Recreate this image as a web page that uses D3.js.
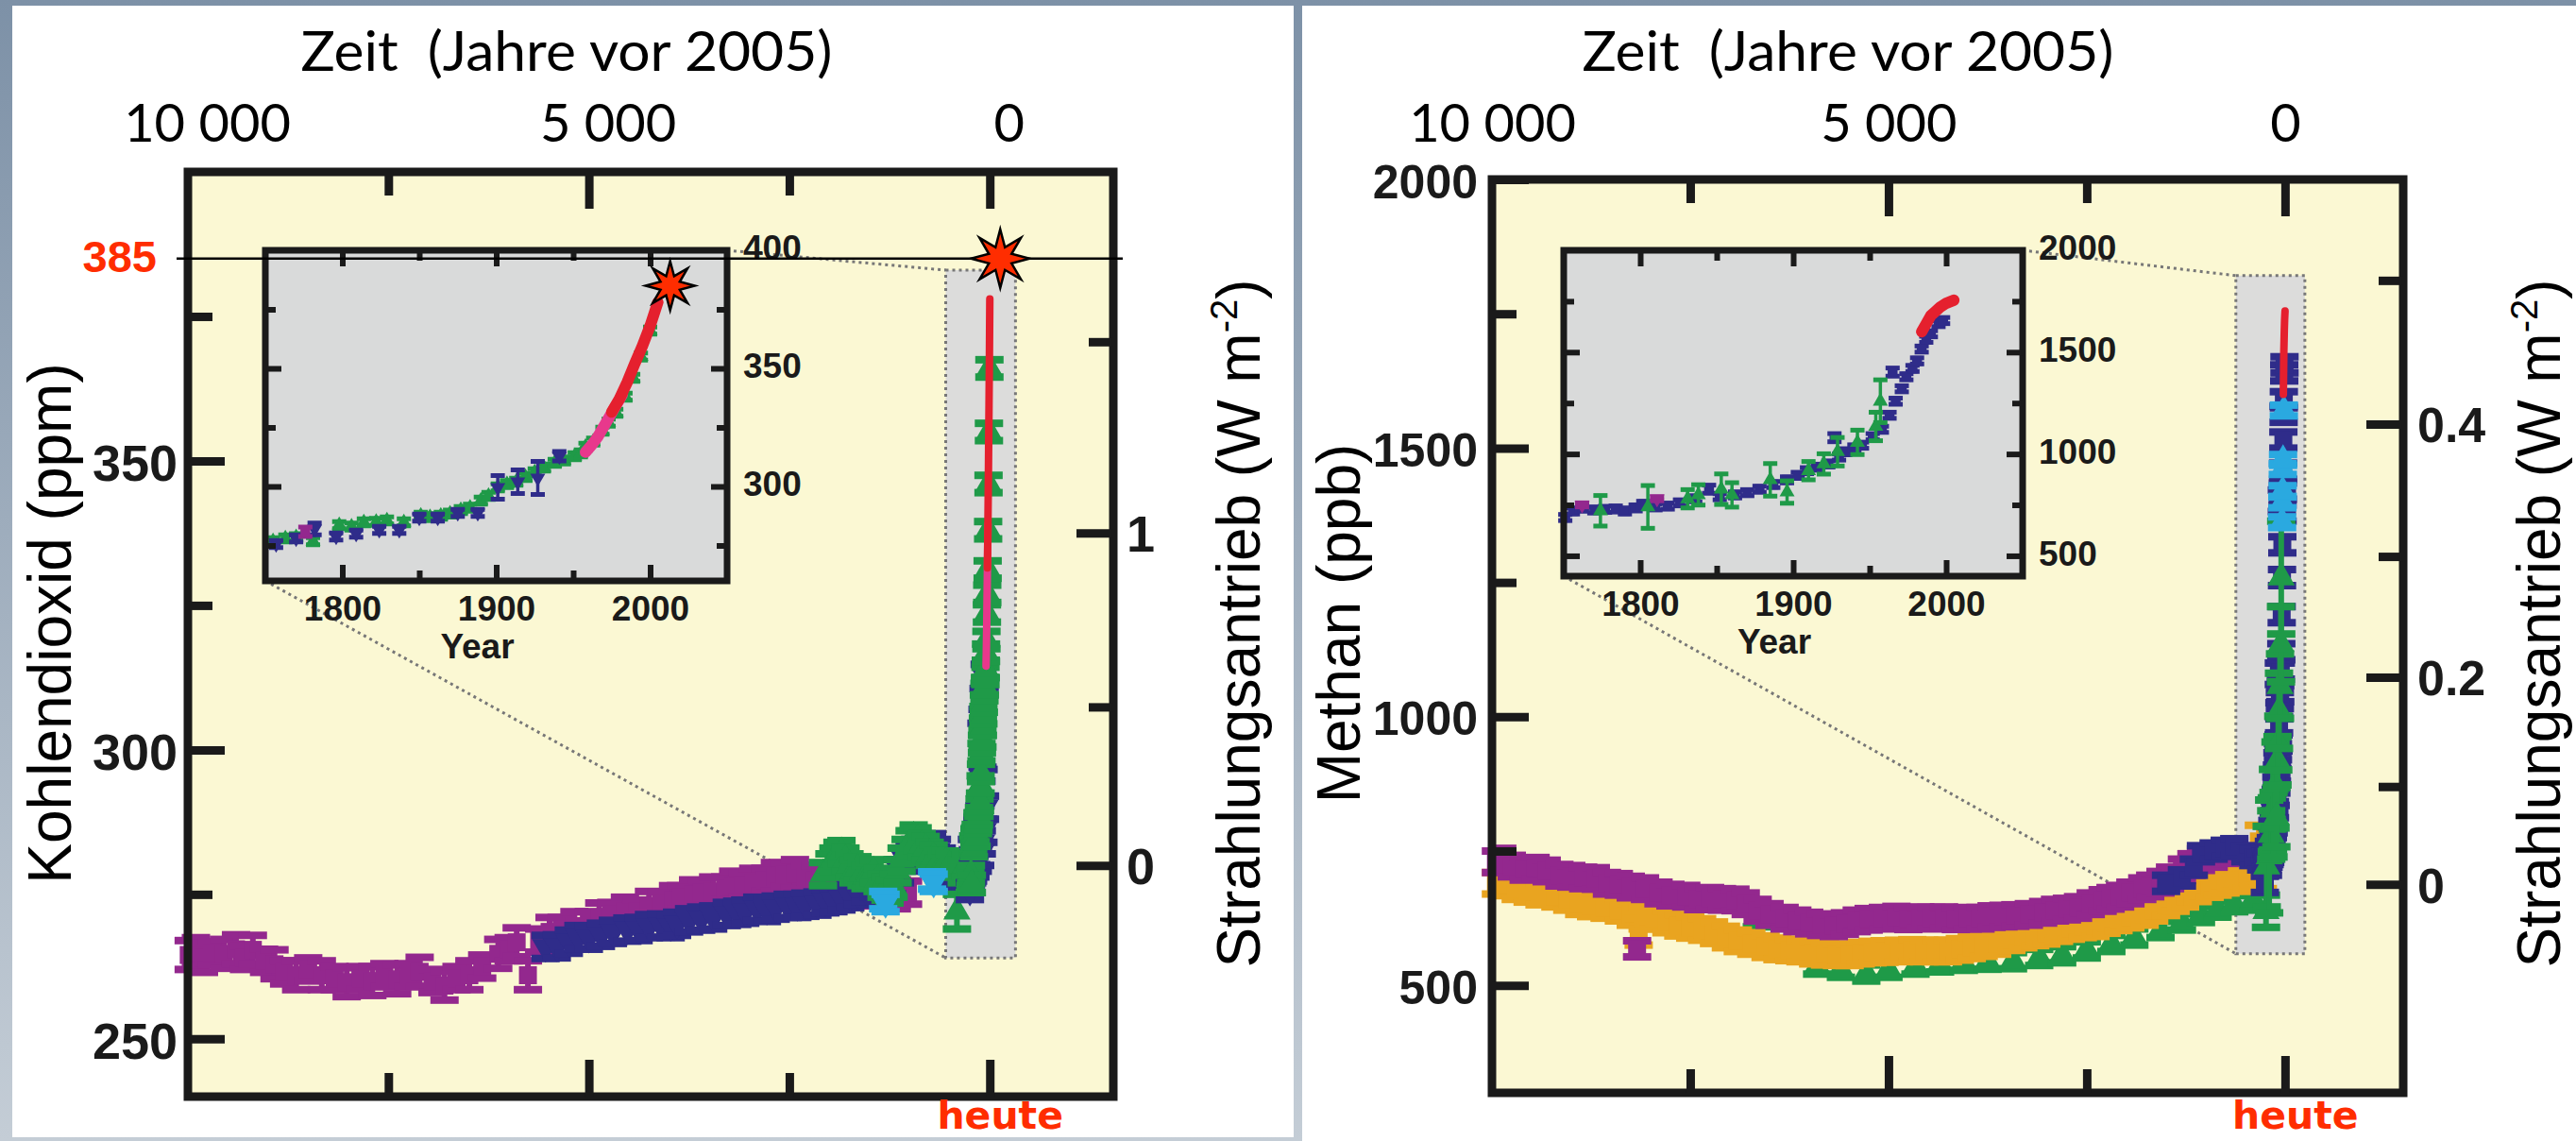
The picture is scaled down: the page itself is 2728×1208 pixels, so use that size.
<!DOCTYPE html>
<meta charset="utf-8">
<script src="https://d3js.org/d3.v7.min.js"></script>
<style>
  body { margin: 0; background: #fff; }
  svg { display: block; }
</style>
<div id="chart"></div>
<script>

// ---------- data ----------
// main panels: [years before 2005, value, error]; insets: [calendar year, value, error]

var timeTicks = [10000, 5000, 0];
var timeMinor = [7500, 2500];
var insetYears = [1800, 1900, 2000];
var insetYearsMinor = [1850, 1950];

// carbon dioxide (ppm)
var co2Ticks = [250, 300, 350];
var co2Minor = [275, 325, 375];
var co2Forcing = [0, 1];
var co2ForcingMinor = [0.5, 1.5];
var co2InsetTicks = [300, 350, 400];
var co2InsetMinor = [275, 325, 375];
var co2Today = 385;
var co2StarMain = [-130, 385];
var co2StarInset = [2013, 385];

var co2Purple = [[9990,264.5,2.5],[9900,265,2.5],[9800,264,2.5],[9700,264.8,2],[9550,264.7,2.5],[9400,265.5,2.5],
  [9300,264,2],[9190,265.4,2.5],[9050,263.5,2],[8920,262.9,2.5],[8800,261.5,2],[8650,261,2.5],[8500,262,2],
  [8330,261,2.5],[8170,260.5,2],[8020,259.8,2.5],[7850,260.5,2],[7700,260,2.5],[7550,261,2],[7390,260.3,2.5],
  [7250,261,2],[7110,261.6,2.5],[6950,260,2],[6800,259.2,2.5],[6650,260.5,2],[6490,261,2.5],[6330,262.5,2],
  [6130,264.7,2.5],[6000,265.5,2],[5900,266.7,2.5],[5760,261,2.5],[5620,267,2],[5490,268.5,2.5],[5340,269,2],
  [5180,269.5,2.5],[5000,270,2],[4870,271,2.5],[4720,271.6,2],[4550,272,2.5],[4400,272,2],[4250,273,2.5],
  [4100,273.4,2],[3950,274,2.5],[3850,274.5,2],[3700,275,2.5],[3590,275.3,2],[3450,275.5,2.5],[3300,276,2],
  [3200,276.5,2.5],[3080,276.6,2],[2950,277,2.5],[2800,277.5,2],[2680,278,2.5],[2560,278.4,2],[2430,278.5,2.5],
  [2300,278,2],[2180,277.5,2.5],[2050,277.1,2],[1920,276.8,2.5],[1800,276.5,2],[1680,276,2.5],[1540,276,2],
  [1420,275.5,2.5],[1300,275.5,2],[1160,275,2.5],[1020,275.3,2]];

var co2Blue = [[5540,265.9,2],[5400,266,2],[5250,266.8,2],[5130,267.6,2],[5000,267.5,2],[4850,268,2],[4700,268.5,2],
  [4520,268.9,2],[4380,269,2],[4250,269.5,2],[4100,269.6,2],[3980,269.5,2],[3900,269.9,2],[3750,270.5,2],
  [3600,270.8,2],[3450,271,2],[3280,271.6,2],[3150,271.8,2],[3050,272,2],[2900,272.5,2],[2780,272.3,2],
  [2670,272.7,2],[2520,273,2],[2400,273,2],[2300,273.2,2],[2150,273.4,2],[2050,273.8,2],[1950,274,2],
  [1850,274.3,2],[1740,274.7,2],[1650,275.2,2],[1550,275.8,2],[1450,276.5,2],[1320,277,2],[1220,277.1,2],
  [1120,279,2],[1060,281,2],[1000,281.7,2],[930,282.5,2],[860,283,2],[780,283.2,2],[720,283.5,2],[660,282.5,2],
  [600,281,2],[540,280.2,2],[505,279.7,2],[450,279,2],[400,278.5,2],[350,278,2],[305,277.8,2],[260,278.5,2],
  [220,279,2],[180,280,2],[150,281,2],[120,282,2],[100,284,2],[80,286,2],[60,290,2]];

var co2Green = [[2080,278.5,2],[2000,280,2],[1950,281,2],[1900,282,2],[1850,282.3,2],[1800,281,2],[1750,280,2],
  [1700,279,2],[1650,279.5,2],[1600,278.5,2],[1550,278,2],[1500,278.5,2],[1450,279,2],[1400,277.5,2],
  [1350,276.5,2],[1300,276,2],[1250,275.5,2],[1200,276.5,2],[1150,279,2],[1100,281,2],[1050,282.5,2],
  [1000,284,2],[950,285,2],[900,284.5,2],[850,283.5,2],[800,283,2],[750,282,2],[700,281.5,2],[650,280.5,2],
  [600,280,2],[550,280.5,2],[500,280,2],[410,272,3],[350,279,2],[300,280,2]];

var co2Cyan = [[1330,274,1.5],[1300,273.5,1.5],[720,277.4,1.5],[700,277,1.5]];

var co2InsetGreen = [[1755,276.8,1.5],[1763,278,1.5],[1770,278.5,1.5],[1781,276.8,1.5],[1798,283.6,1.5],
  [1806,283,1.5],[1814,284.8,1.5],[1822,285,1.5],[1829,285.6,1.5],[1840,284.8,1.5],[1851,287.6,1.5],
  [1857,287,1.5],[1864,287.6,1.5],[1870,288.5,1.5],[1877,290,1.5],[1883,291,1.5],[1890,294,1.5],[1895,296,1.5],
  [1901,299.6,1.5],[1907,301,1.5],[1913,302,1.5],[1919,304,1.5],[1925,306,1.5],[1931,308,1.5],[1938,310,1.5],
  [1944,311,1.5],[1951,312.8,1.5],[1955,314,1.5],[1958,316.8,1.5],[1963,319,1.5],[1969,323.6,1.5],
  [1973,327,1.5],[1978,331.2,1.5],[1984,338,1.5],[1989,346,1.5],[1994,355,1.5],[2000,366,1.5]];
var co2InsetBlue = [[1757,275.6,1.5],[1770,278,1.5],[1782,282,2.5],[1796,278.8,1.5],[1809,280,1.5],[1824,281.6,1.5],
  [1837,281.6,1.5],[1850,286.8,1.5],[1862,286.8,1.5],[1875,288.8,1.5],[1888,288.8,1.5],[1901,299.6,5],
  [1914,302,5],[1927,303.6,7],[1941,312.8,2]];
var co2InsetMagenta = [[1776,280.8,2]];
var co2InsetPink = [[1958,314.5],[1962,317.5],[1966,321],[1970,325.5],[1974,330],[1978,334.5],[1982,339]];
var co2InsetRed = [[1975,331.5],[1980,337],[1985,344],[1990,352],[1995,359.5],[2000,368],[2005,378]];

// methane (ppb)
var ch4Ticks = [500, 1000, 1500, 2000];
var ch4Minor = [750, 1250, 1750];
var ch4Forcing = [0, 0.2, 0.4];
var ch4ForcingMinor = [0.1, 0.3, 0.5];
var ch4InsetTicks = [500, 1000, 1500, 2000];
var ch4InsetMinor = [750, 1250, 1750];

var ch4Purple = [[9950,730,20],[9870,735,20],[9750,722,20],[9600,716,20],[9450,718,20],[9310,713,20],[9150,705,20],
  [9000,703,20],[8850,700,20],[8690,699,20],[8550,690,20],[8400,688,20],[8250,683,20],[8170,568,15],[8070,680,20],
  [7900,672,20],[7750,668,20],[7550,666,20],[7400,661,20],[7250,662,20],[7100,660,20],[6930,659,20],[6800,652,20],
  [6650,640,20],[6500,632,20],[6310,625,20],[6150,620,20],[6000,616,20],[5850,613,20],[5690,611,20],[5550,615,20],
  [5400,620,20],[5250,623,20],[5070,625,20],[4900,627,20],[4750,624,20],[4600,626,20],[4460,625,20],[4300,626,20],
  [4150,624,20],[4000,625,20],[3840,625,20],[3700,628,20],[3550,629,20],[3400,630,20],[3230,632,20],[3050,636,20],
  [2900,640,20],[2750,642,20],[2610,645,20],[2450,652,20],[2300,658,20],[2200,662,20],[2080,666,20],[1950,672,20],
  [1800,680,20],[1700,685,20],[1570,692,20],[1450,700,20],[1300,715,20],[1180,725,20],[1060,734,20],[900,740,20],
  [760,747,20],[640,749,20]];

var ch4Orange = [[9950,690,20],[9820,687,20],[9700,680,20],[9550,675,20],[9400,670,20],[9200,666,20],[9050,660,20],
  [8900,652,20],[8750,648,20],[8580,645,20],[8400,640,20],[8250,632,20],[8150,600,25],[8100,625,20],[7960,625,20],
  [7800,618,20],[7650,612,20],[7500,608,20],[7350,604,20],[7200,598,20],[7050,590,20],[6900,583,20],[6730,578,20],
  [6550,572,20],[6400,568,20],[6250,566,20],[6110,564,20],[5950,560,20],[5800,558,20],[5650,557,20],[5490,557,20],
  [5350,560,20],[5200,562,20],[5050,563,20],[4870,564,20],[4700,565,20],[4550,564,20],[4400,564,20],[4250,564,20],
  [4100,567,20],[3950,570,20],[3800,574,20],[3630,578,20],[3450,585,20],[3300,590,20],[3150,594,20],[3010,597,20],
  [2850,602,20],[2700,606,20],[2550,609,20],[2390,611,20],[2250,617,20],[2100,622,20],[1950,627,20],[1770,632,20],
  [1650,640,20],[1500,650,20],[1380,658,20],[1260,666,20],[1100,676,20],[950,684,20],[850,688,20],[750,692,20],
  [600,695,20],[480,700,20],[400,710,25],[330,768,30],[280,700,20]];

var ch4Green = [[6660,624,15],[5920,603,12],[5900,536,15],[5600,530,15],[5280,523,15],[5000,530,15],[4660,536,15],
  [4350,540,15],[4050,543,15],[3750,545,15],[3430,546,15],[3100,552,15],[2810,557,15],[2500,566,15],[2190,578,15],
  [1900,590,15],[1570,604,15],[1300,618,15],[1060,632,15],[850,642,15],[640,652,15],[400,660,20],[240,638,30]];

var ch4Blue = [[1500,690,15],[1300,700,15],[1150,720,15],[1060,745,15],[900,750,15],[760,755,15],[640,758,15],
  [500,745,15],[400,738,15],[300,730,15],[240,734,15]];

var ch4Cyan = [[37,1362,10],[33,1399,10],[30,1420,10],[28,1461,10],[25,1478,10],[15,1570,10]];

var ch4InsetBlue = [[1751,688,15],[1756,720,15],[1762,734,15],[1770,725,15],[1777,728,15],[1784,730,15],
  [1790,720,15],[1797,735,15],[1802,753,15],[1810,740,15],[1818,744,15],[1826,760,15],[1836,780,15],[1845,827,20],
  [1852,790,15],[1862,799,15],[1870,810,15],[1878,827,15],[1887,850,15],[1896,873,15],[1903,895,15],[1909,918,15],
  [1916,935,15],[1923,951,15],[1927,1080,20],[1930,985,15],[1934,1011,15],[1940,1030,15],[1945,1043,15],
  [1952,1085,15],[1958,1121,15],[1963,1190,15],[1965,1402,20],[1967,1259,15],[1971,1320,15],[1974,1379,15],
  [1978,1420,15],[1981,1457,15],[1984,1515,15],[1987,1563,15],[1990,1590,15],[1995,1640,15],[1998,1655,15]];
var ch4InsetGreen = [[1774,721,75],[1805,740,105],[1831,780,45],[1838,799,50],[1853,827,75],[1860,799,60],
  [1885,873,80],[1896,813,55],[1910,918,45],[1920,951,50],[1929,1011,70],[1942,1057,60],[1954,1135,70],
  [1957,1259,105]];
var ch4InsetMagenta = [[1762,750,10],[1811,780,10]];
var ch4InsetRed = [[1984,1600],[1987,1640],[1990,1680],[1993,1700],[1996,1720],[2000,1740],[2005,1755]];

// radiative forcing scales (W m-2) expressed as concentrations
function co2FromForcing(f) { return 280 * Math.exp(f / 5.35); }
function ch4FromForcing(f) { return Math.pow(Math.sqrt(688) + f / 0.0306, 2); }

// ---------- drawing ----------
var W = 2728, H = 1208;
var RED = "#ff2d00";
var C = { purple: "#93288e", blue: "#2f2c8a", green: "#1f9a48", orange: "#e9a420", cyan: "#2aa9e0",
          red: "#e5202e", pink: "#e8388c", ink: "#1a1a1a" };
var bold = "'Liberation Sans', Arial, sans-serif";

var svg = d3.select("#chart").append("svg").attr("width", W).attr("height", H);

var grad = svg.append("defs").append("linearGradient").attr("id", "edge")
  .attr("x1", 0).attr("y1", 0).attr("x2", 0).attr("y2", 1);
grad.append("stop").attr("offset", "0%").attr("stop-color", "#7d91a7");
grad.append("stop").attr("offset", "100%").attr("stop-color", "#c4cdd6");
svg.append("rect").attr("width", W).attr("height", H).attr("fill", "url(#edge)");
svg.append("rect").attr("x", 13).attr("y", 6).attr("width", 1357).attr("height", 1198).attr("fill", "#fff");
svg.append("rect").attr("x", 1379).attr("y", 6).attr("width", W - 1379).attr("height", H - 6).attr("fill", "#fff");

var mainSize = { cap: 30, capW: 8, bar: 6, sym: 360, line: 8 };
var insetSize = { cap: 15, capW: 5, bar: 3.5, sym: 110, line: 12 };

function drawSeries(g, s, x, y, sz) {
  var xv = function(d) { return x(s.ad ? 2005 - d[0] : d[0]); };
  if (s.line) {
    g.append("path").datum(s.data)
      .attr("d", d3.line().x(xv).y(function(d) { return y(d[1]); }))
      .attr("fill", "none").attr("stroke", s.color)
      .attr("stroke-width", sz.line).attr("stroke-linecap", "round");
    return;
  }
  var pts = g.append("g").selectAll("g").data(s.data).enter().append("g")
    .attr("stroke", s.color).attr("fill", s.color);
  pts.append("line")
    .attr("x1", xv).attr("x2", xv)
    .attr("y1", function(d) { return y(d[1] - d[2]); })
    .attr("y2", function(d) { return y(d[1] + d[2]); })
    .attr("stroke-width", sz.bar);
  [-1, 1].forEach(function(k) {
    pts.append("line")
      .attr("x1", function(d) { return xv(d) - sz.cap / 2; })
      .attr("x2", function(d) { return xv(d) + sz.cap / 2; })
      .attr("y1", function(d) { return y(d[1] + k * d[2]); })
      .attr("y2", function(d) { return y(d[1] + k * d[2]); })
      .attr("stroke-width", sz.capW);
  });
  var sym = d3.symbol().type(s.shape === "square" ? d3.symbolSquare : d3.symbolTriangle).size(sz.sym);
  pts.append("path").attr("d", sym).attr("stroke", "none")
    .attr("transform", function(d) {
      return "translate(" + xv(d) + "," + y(d[1]) + ")" + (s.shape === "down" ? " rotate(180)" : "");
    });
}

// axis ticks pointing into the frame
function tickMarks(g, axis, vals, len, width) {
  g.call(axis.tickValues(vals).tickSize(-len).tickFormat(""));
  g.select(".domain").remove();
  g.selectAll(".tick line").attr("stroke", C.ink).attr("stroke-width", width);
}

function tickLabels(g, axis, vals, fmt, pad, size, dy) {
  g.call(axis.tickValues(vals).tickSize(0).tickPadding(pad).tickFormat(fmt));
  g.select(".domain").remove();
  g.selectAll("text").attr("font-family", bold).attr("font-weight", "bold")
    .attr("font-size", size).attr("fill", C.ink);
  if (dy) g.selectAll("text").attr("dy", dy);
}

function starPath(r1, r2) {
  var pts = [];
  for (var i = 0; i < 16; i++) {
    var a = Math.PI * i / 8 - Math.PI / 2, r = i % 2 ? r2 : r1;
    pts.push([Math.cos(a) * r, Math.sin(a) * r]);
  }
  return "M" + pts.join("L") + "Z";
}

function drawPanel(p) {
  var g = svg.append("g");
  var x = d3.scaleLinear().domain(p.xDomain).range([p.left, p.right]);
  var y = d3.scaleLinear().domain(p.yDomain).range([p.bottom, p.top]);
  var ins = p.inset;
  var ix = d3.scaleLinear().domain([1750, 2050]).range([ins.left, ins.right]);
  var iy = d3.scaleLinear().domain(p.insetDomain).range([ins.bottom, ins.top]);

  g.append("rect").attr("x", p.left).attr("y", p.top)
    .attr("width", p.right - p.left).attr("height", p.bottom - p.top).attr("fill", "#fbf8d3");

  // zoom box and connectors
  var bx0 = x(p.box[0]), bx1 = x(p.box[1]), byTop = y(p.box[3]), byBot = y(p.box[2]);
  g.append("rect").attr("x", bx0).attr("y", byTop).attr("width", bx1 - bx0).attr("height", byBot - byTop)
    .attr("fill", "#dcdcdb").attr("stroke", "#777").attr("stroke-width", 3).attr("stroke-dasharray", "3,4");
  [[ins.right, ins.top, bx0, byTop], [ins.left, ins.bottom, bx0, byBot]].forEach(function(c) {
    g.append("line").attr("x1", c[0]).attr("y1", c[1]).attr("x2", c[2]).attr("y2", c[3])
      .attr("stroke", "#777").attr("stroke-width", 3).attr("stroke-dasharray", "3,4");
  });

  p.main.forEach(function(s) { drawSeries(g, s, x, y, mainSize); });

  // inset
  g.append("rect").attr("x", ins.left).attr("y", ins.top)
    .attr("width", ins.right - ins.left).attr("height", ins.bottom - ins.top).attr("fill", "#d9dada");
  p.insetSeries.forEach(function(s) { drawSeries(g, s, ix, iy, insetSize); });
  g.append("rect").attr("x", ins.left).attr("y", ins.top)
    .attr("width", ins.right - ins.left).attr("height", ins.bottom - ins.top)
    .attr("fill", "none").attr("stroke", C.ink).attr("stroke-width", 7);
  [[d3.axisTop, ins.top], [d3.axisBottom, ins.bottom]].forEach(function(a) {
    var t = "translate(0," + a[1] + ")";
    tickMarks(g.append("g").attr("transform", t), a[0](ix), insetYears, 17, 6);
    tickMarks(g.append("g").attr("transform", t), a[0](ix), insetYearsMinor, 11, 6);
  });
  [[d3.axisLeft, ins.left], [d3.axisRight, ins.right]].forEach(function(a) {
    var t = "translate(" + a[1] + ",0)";
    tickMarks(g.append("g").attr("transform", t), a[0](iy), p.insetTicks.slice(0, -1), p.insetMajorLen, 6);
    tickMarks(g.append("g").attr("transform", t), a[0](iy), p.insetMinor, 11, 6);
  });
  tickLabels(g.append("g").attr("transform", "translate(0," + ins.bottom + ")"),
    d3.axisBottom(ix), insetYears, d3.format("d"), 16, 37);
  tickLabels(g.append("g").attr("transform", "translate(" + ins.right + ",0)"),
    d3.axisRight(iy), p.insetTicks, d3.format("d"), 17, 37, "0.26em");
  g.append("text").attr("x", (ins.left + ins.right) / 2 - 20).attr("y", ins.bottom + 82)
    .attr("text-anchor", "middle").attr("font-family", bold).attr("font-weight", "bold")
    .attr("font-size", 37).attr("fill", C.ink).text("Year");

  // main frame + ticks
  g.append("rect").attr("x", p.left).attr("y", p.top)
    .attr("width", p.right - p.left).attr("height", p.bottom - p.top)
    .attr("fill", "none").attr("stroke", C.ink).attr("stroke-width", 9);
  [[d3.axisTop, p.top], [d3.axisBottom, p.bottom]].forEach(function(a) {
    var t = "translate(0," + a[1] + ")";
    tickMarks(g.append("g").attr("transform", t), a[0](x), timeTicks.slice(1), 39, 9);
    tickMarks(g.append("g").attr("transform", t), a[0](x), timeMinor, 25, 9);
  });
  tickMarks(g.append("g").attr("transform", "translate(" + p.left + ",0)"), d3.axisLeft(y), p.yTicks, 39, 9);
  tickMarks(g.append("g").attr("transform", "translate(" + p.left + ",0)"), d3.axisLeft(y), p.yMinor, 26, 9);
  var fMajor = p.forcing.map(p.fromForcing), fMinor = p.forcingMinor.map(p.fromForcing);
  tickMarks(g.append("g").attr("transform", "translate(" + p.right + ",0)"), d3.axisRight(y), fMajor, 39, 9);
  tickMarks(g.append("g").attr("transform", "translate(" + p.right + ",0)"), d3.axisRight(y), fMinor, 26, 9);

  // tick labels
  tickLabels(g.append("g").attr("transform", "translate(" + p.left + ",0)"),
    d3.axisLeft(y), p.yTicks, d3.format("d"), p.yPad, p.ySize, "0.38em");
  tickLabels(g.append("g").attr("transform", "translate(" + p.right + ",0)"),
    d3.axisRight(y), fMajor, function(d, i) { return String(p.forcing[i]); }, p.fPad, p.fSize, "0.36em");

  var top = g.append("g").attr("transform", "translate(" + p.topDx + ",150)");
  top.call(d3.axisTop(x).tickValues(timeTicks).tickSize(0).tickPadding(0)
    .tickFormat(function(d) { return d3.format(",")(d).replace(",", " "); }));
  top.select(".domain").remove();
  top.selectAll("text").attr("font-family", "Lato, 'Open Sans', sans-serif").attr("font-size", 56).attr("fill", "#000");

  g.append("text").attr("x", p.titleX).attr("y", 75).attr("text-anchor", "middle")
    .attr("font-family", "Lato, 'Open Sans', sans-serif").attr("font-size", 58).attr("fill", "#000")
    .attr("textLength", 563).attr("lengthAdjust", "spacingAndGlyphs")
    .style("white-space", "pre").text("Zeit  (Jahre vor 2005)");

  // axis titles
  g.append("text").attr("transform", "translate(" + p.yTitleX + ",660) rotate(-90)")
    .attr("text-anchor", "middle").attr("font-family", bold).attr("font-size", 64).attr("fill", "#000")
    .text(p.yTitle);
  var ft = g.append("text").attr("transform", "translate(" + p.fTitleX + ",660) rotate(-90)")
    .attr("text-anchor", "middle").attr("font-family", bold).attr("font-size", 64).attr("fill", "#000");
  ft.append("tspan").text("Strahlungsantrieb (W m");
  ft.append("tspan").attr("font-size", 40).attr("dy", -24).text("-2");
  ft.append("tspan").attr("dy", 24).text(")");

  g.append("text").attr("x", x(0) + 11).attr("y", 1195).attr("text-anchor", "middle")
    .attr("font-family", "'DejaVu Sans', Verdana, sans-serif").attr("font-weight", "bold")
    .attr("font-size", 41).attr("fill", RED).text("heute");

  return { g: g, x: x, y: y, ix: ix, iy: iy };
}

// ---------- left: CO2 ----------
var left = drawPanel({
  left: 199, right: 1179, top: 182, bottom: 1161,
  xDomain: [10000, -1540], yDomain: [240, 400],
  inset: { left: 281, right: 770, top: 265, bottom: 615 }, insetDomain: [260, 400],
  insetTicks: co2InsetTicks, insetMinor: co2InsetMinor, insetMajorLen: 17,
  box: [550, -320, 264, 383],
  yTicks: co2Ticks, yMinor: co2Minor, forcing: co2Forcing, forcingMinor: co2ForcingMinor,
  fromForcing: co2FromForcing,
  yPad: 11, ySize: 54, fPad: 14, fSize: 54, topDx: 20, titleX: 600,
  yTitle: "Kohlendioxid (ppm)", yTitleX: 75, fTitleX: 1334,
  main: [
    { data: co2Purple, color: C.purple, shape: "square" },
    { data: co2Blue, color: C.blue, shape: "down" },
    { data: co2Green, color: C.green, shape: "up" },
    { data: co2Cyan, color: C.cyan, shape: "down" },
    { data: co2InsetBlue, color: C.blue, shape: "down", ad: true },
    { data: co2InsetGreen, color: C.green, shape: "up", ad: true },
    { data: co2InsetPink, color: C.pink, line: true, ad: true },
    { data: co2InsetRed, color: C.red, line: true, ad: true }
  ],
  insetSeries: [
    { data: co2InsetGreen, color: C.green, shape: "up" },
    { data: co2InsetBlue, color: C.blue, shape: "down" },
    { data: co2InsetMagenta, color: C.purple, shape: "square" },
    { data: co2InsetPink, color: C.pink, line: true },
    { data: co2InsetRed, color: C.red, line: true }
  ]
});

// 385 ppm marker line, label and stars
left.g.append("line")
  .attr("x1", 187).attr("x2", 1189)
  .attr("y1", left.y(co2Today)).attr("y2", left.y(co2Today))
  .attr("stroke", "#000").attr("stroke-width", 2.5);
left.g.append("text").attr("x", 166).attr("y", left.y(co2Today) + 14).attr("text-anchor", "end")
  .attr("font-family", bold).attr("font-weight", "bold").attr("font-size", 47).attr("fill", RED)
  .text(String(co2Today));
left.g.append("path").attr("d", starPath(31, 13))
  .attr("transform", "translate(" + left.x(co2StarMain[0]) + "," + left.y(co2StarMain[1]) + ")")
  .attr("fill", RED).attr("stroke", "#000").attr("stroke-width", 2.5);
left.g.append("path").attr("d", starPath(26, 11))
  .attr("transform", "translate(" + left.ix(co2StarInset[0]) + "," + left.iy(co2StarInset[1]) + ")")
  .attr("fill", RED).attr("stroke", "#000").attr("stroke-width", 2.5);

// ---------- right: CH4 ----------
drawPanel({
  left: 1580, right: 2545, top: 190, bottom: 1157,
  xDomain: [10000, -1490], yDomain: [300, 2000],
  inset: { left: 1656, right: 2142, top: 265, bottom: 610 }, insetDomain: [400, 2000],
  insetTicks: ch4InsetTicks, insetMinor: ch4InsetMinor, insetMajorLen: 17,
  box: [620, -250, 559, 1821],
  yTicks: ch4Ticks, yMinor: ch4Minor, forcing: ch4Forcing, forcingMinor: ch4ForcingMinor,
  fromForcing: ch4FromForcing,
  yPad: 15, ySize: 50, fPad: 15, fSize: 52, topDx: 0, titleX: 1957,
  yTitle: "Methan (ppb)", yTitleX: 1440, fTitleX: 2711,
  main: [
    { data: ch4Green, color: C.green, shape: "up" },
    { data: ch4Orange, color: C.orange, shape: "square" },
    { data: ch4Purple, color: C.purple, shape: "square" },
    { data: ch4Blue, color: C.blue, shape: "square" },
    { data: ch4InsetBlue, color: C.blue, shape: "square", ad: true },
    { data: ch4InsetGreen, color: C.green, shape: "up", ad: true },
    { data: ch4Cyan, color: C.cyan, shape: "up" },
    { data: ch4InsetRed, color: C.red, line: true, ad: true }
  ],
  insetSeries: [
    { data: ch4InsetBlue, color: C.blue, shape: "square" },
    { data: ch4InsetMagenta, color: C.purple, shape: "down" },
    { data: ch4InsetGreen, color: C.green, shape: "up" },
    { data: ch4InsetRed, color: C.red, line: true }
  ]
});

</script>
